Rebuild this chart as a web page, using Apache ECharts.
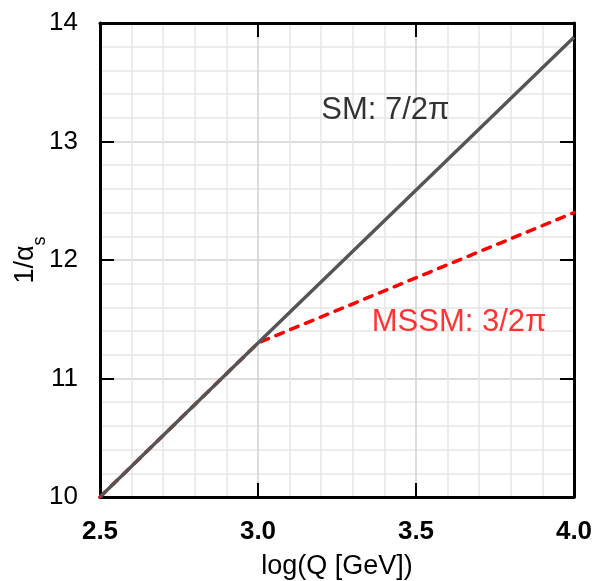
<!DOCTYPE html>
<html><head><meta charset="utf-8">
<script src="https://cdn.jsdelivr.net/npm/echarts@6/dist/echarts.min.js"></script>
<style>html,body{margin:0;padding:0;background:#fff}#c{width:594px;height:581px}</style>
</head><body><div id="c"></div>
<script>
const xTicks = [2.5, 3.0, 3.5, 4.0];
const yTicks = [10, 11, 12, 13, 14];
const smX = [2.5, 3.0, 4.0];
const smY = [10.0, 11.3, 13.88];
const mssmX = [2.5, 3.0, 4.0];
const mssmY = [10.0, 11.3, 12.4];
const labels = [
  {text: 'SM: 7/2\u03c0', x: 3.2, y: 13.26, color: '#000000'},
  {text: 'MSSM: 3/2\u03c0', x: 3.36, y: 11.47, color: '#ff0000'}
];

const chart = echarts.init(document.getElementById('c'));
const font = 'Liberation Sans, Arial, Helvetica, sans-serif';
const xBase = {
  type: 'value', min: 2.5, max: 4.0, interval: 0.5,
  axisLine: {show: true, lineStyle: {color: '#000', width: 3}},
  axisTick: {show: true, inside: true, length: 14, lineStyle: {color: '#000', width: 2}},
};
const yBase = {
  type: 'value', min: 10, max: 14, interval: 1,
  axisLine: {show: true, lineStyle: {color: '#000', width: 3}},
  axisTick: {show: true, inside: true, length: 14, lineStyle: {color: '#000', width: 2}},
};
chart.setOption({
  animation: false,
  grid: {left: 100, right: 20, top: 23, bottom: 84, containLabel: false, outerBoundsMode: 'none'},
  xAxis: [
    Object.assign({}, xBase, {
      position: 'bottom',
      name: 'log(Q [GeV])', nameLocation: 'middle', nameGap: 56, nameMoveOverlap: false,
      nameTextStyle: {fontSize: 27, color: '#000', fontFamily: font},
      axisLabel: {fontSize: 26, fontWeight: 'bold', color: '#000', margin: 22, fontFamily: font,
        formatter: v => v.toFixed(1)},
      splitLine: {show: true, lineStyle: {color: '#d0d0d0', width: 1.5}},
      minorTick: {show: true, splitNumber: 5, length: 0},
      minorSplitLine: {show: true, lineStyle: {color: '#e6e6e6', width: 1.5}}
    }),
    Object.assign({}, xBase, {position: 'top', axisLabel: {show: false}, splitLine: {show: false}})
  ],
  yAxis: [
    Object.assign({}, yBase, {
      position: 'left',
      name: '1/\u03b1{s|s}', nameLocation: 'middle', nameGap: 61, nameRotate: 90, nameMoveOverlap: false,
      nameTextStyle: {fontSize: 27, color: '#000', fontFamily: font,
        rich: {s: {fontSize: 18, color: '#000', fontFamily: font, verticalAlign: 'bottom', padding: [0,0,-10,0]}}},
      axisLabel: {fontSize: 26, color: '#000', margin: 22, fontFamily: font},
      splitLine: {show: true, lineStyle: {color: '#d0d0d0', width: 1.5}},
      minorTick: {show: true, splitNumber: 5, length: 0},
      minorSplitLine: {show: true, lineStyle: {color: '#e6e6e6', width: 1.5}}
    }),
    Object.assign({}, yBase, {position: 'right', axisLabel: {show: false}, splitLine: {show: false}})
  ],
  series: [
    {type: 'line', name: 'MSSM', data: mssmX.map((x, i) => [x, mssmY[i]]), showSymbol: false,
      lineStyle: {color: '#ff0000', width: 3.5, type: [8, 8], cap: 'round'}, z: 3},
    {type: 'line', name: 'SM', data: smX.map((x, i) => [x, smY[i]]), showSymbol: false,
      lineStyle: {color: '#555555', width: 3.4}, z: 4},
    {type: 'scatter', symbolSize: 0, z: 5, silent: true,
      data: labels.map(l => ({value: [l.x, l.y], label: {color: l.color}})),
      label: {show: true, position: 'right', distance: 0, fontSize: 31, fontFamily: font, color: '#000',
        textBorderWidth: 0, formatter: p => labels[p.dataIndex].text}}
  ]
});
</script></body></html>
